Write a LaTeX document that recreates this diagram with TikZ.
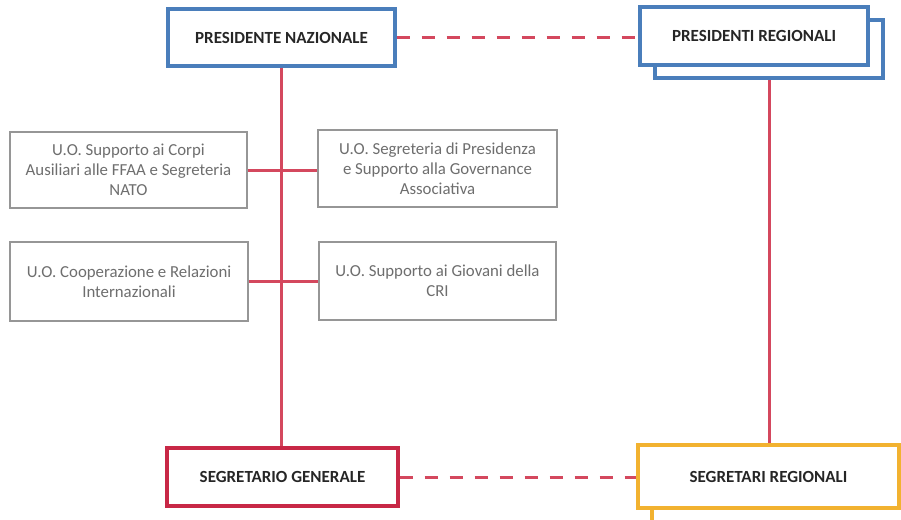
\documentclass[tikz,border=0pt]{standalone}
\usepackage{fontspec}
\setmainfont{Carlito}
\usepackage{tikz}
\usetikzlibrary{positioning}
\usetikzlibrary{shapes,calc}
\definecolor{presblu}{RGB}{74,126,187}
\definecolor{segrosso}{RGB}{200,40,70}
\definecolor{linkrosso}{RGB}{212,72,94}
\definecolor{regoro}{RGB}{242,178,48}
\definecolor{uogrigio}{RGB}{150,150,150}
\definecolor{uotesto}{RGB}{110,110,110}
\tikzset{
	x = 1pt, y = -1pt,
	carica/.style = {rectangle, draw, fill = white, line width = 3.4pt,
		font = \fontsize{17}{20}\selectfont\bfseries, text = black!85},
	ufficio/.style = {rectangle, draw = uogrigio, fill = white, line width = 2.6pt,
		align = center, font = \fontsize{16.8}{20}\selectfont, text = uotesto},
	link/.style = {draw = linkrosso, line width = 3pt},
	tratteggio/.style = {link, dash pattern = on 13pt off 12pt},
}
\begin{document}
\begin{tikzpicture}
	\useasboundingbox [fill = white] (0,0) rectangle (901,519);
	% vertici
	\node (prback) [carica, draw = presblu, minimum width = 228pt, minimum height = 58pt] at (769,49) {};
	\node (pr) [carica, draw = presblu, minimum width = 228pt, minimum height = 58pt] at (754,36) {PRESIDENTI REGIONALI};
	\node (pn) [carica, draw = presblu, minimum width = 227pt, minimum height = 57pt] at (281.5,37.5) {PRESIDENTE NAZIONALE};
	\node (srback) [carica, draw = regoro, minimum width = 261pt, minimum height = 63pt] at (782.5,490.5) {};
	\node (sr) [carica, draw = regoro, minimum width = 261pt, minimum height = 63pt] at (768.5,476.5) {SEGRETARI REGIONALI};
	\node (sg) [carica, draw = segrosso, minimum width = 231pt, minimum height = 58pt] at (282.5,477) {SEGRETARIO GENERALE};
	% unita operative
	\node (uo1) [ufficio, minimum width = 237pt, minimum height = 76pt] at (128.5,170) {U.O. Supporto ai Corpi\\Ausiliari alle FFAA e Segreteria\\NATO};
	\node (uo2) [ufficio, minimum width = 239pt, minimum height = 77pt] at (437.5,168.5) {U.O. Segreteria di Presidenza\\e Supporto alla Governance\\Associativa};
	\node (uo3) [ufficio, minimum width = 238pt, minimum height = 79pt] at (129,281.5) {U.O. Cooperazione e Relazioni\\Internazionali};
	\node (uo4) [ufficio, minimum width = 237pt, minimum height = 78pt] at (437.5,281) {U.O. Supporto ai Giovani della\\CRI};
	% collegamenti
	\draw [link] (pn.south) -- (pn.south |- sg.north);
	\draw [link] (uo1.east) -- (uo1.east -| uo2.west);
	\draw [link] (uo3.east) -- (uo3.east -| uo4.west);
	\draw [link] (prback.south) -- (prback.south |- sr.north);
	\draw [tratteggio] (pn.east) -- (pn.east -| pr.west);
	\draw [tratteggio] (sg.east) -- (sg.east -| sr.west);
\end{tikzpicture}
\end{document}
